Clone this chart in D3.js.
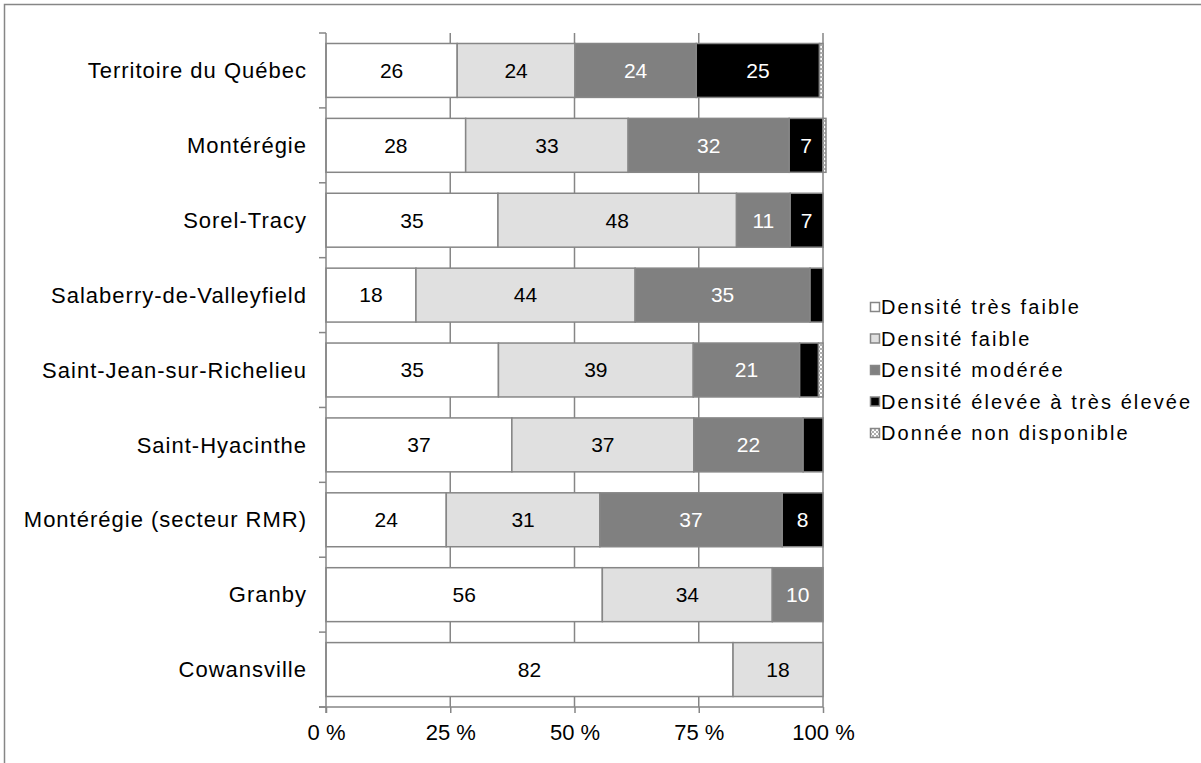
<!DOCTYPE html>
<html>
<head>
<meta charset="utf-8">
<script src="https://cdn.jsdelivr.net/npm/d3@7"></script>
<style>
  body { margin: 0; background: #fff; }
  text { font-family: "Liberation Sans", Arial, sans-serif; }
</style>
</head>
<body>
<svg id="chart" width="1201" height="763"></svg>
<script>
const categories = ['Territoire du Québec', 'Montérégie', 'Sorel-Tracy', 'Salaberry-de-Valleyfield',
  'Saint-Jean-sur-Richelieu', 'Saint-Hyacinthe', 'Montérégie (secteur RMR)', 'Granby', 'Cowansville'];
const seriesNames = ['Densité très faible', 'Densité faible', 'Densité modérée',
  'Densité élevée à très élevée', 'Donnée non disponible'];
const tresFaible = [26.4, 28.1, 34.6, 18.1, 34.7, 37.4, 24.2, 55.6, 81.9];
const faible     = [23.7, 32.7, 48.0, 44.1, 39.2, 36.6, 30.9, 34.2, 18.1];
const moderee    = [24.4, 32.4, 10.8, 35.2, 21.4, 22.0, 36.7, 10.2, 0];
const elevee     = [24.8, 6.8, 6.6, 2.6, 3.8, 4.0, 8.2, 0, 0];
const nonDispo   = [0.7, 0.6, 0, 0, 0.9, 0, 0, 0, 0];
const tickValues = [0, 25, 50, 75, 100];

const w = 1201, h = 763;
const margins = {top: 33, right: 378, bottom: 56, left: 326};
const grey = '#868686';

const chart = d3.select('#chart');

// table for d3.stack
const keys = ['tf', 'f', 'm', 'e', 'nd'];
const cols = [tresFaible, faible, moderee, elevee, nonDispo];
const rows = categories.map((c, i) => {
  const r = {cat: c};
  keys.forEach((k, j) => r[k] = cols[j][i]);
  return r;
});
const stacked = d3.stack().keys(keys)(rows);

const xScale = d3.scaleLinear()
  .domain([0, 100])
  .range([margins.left, w - margins.right]);

const yScale = d3.scaleBand()
  .domain(categories)
  .range([margins.top, h - margins.bottom])
  .paddingInner(0.28)
  .paddingOuter(0.14);

// pattern for "non disponible"
const defs = chart.append('defs');
const pat = defs.append('pattern')
  .attr('id', 'nd')
  .attr('patternUnits', 'userSpaceOnUse')
  .attr('width', 4).attr('height', 4);
pat.append('rect').attr('width', 4).attr('height', 4).attr('fill', '#fff');
pat.append('rect').attr('width', 2).attr('height', 2).attr('fill', '#b0b0b0');
pat.append('rect').attr('x', 2).attr('y', 2).attr('width', 2).attr('height', 2).attr('fill', '#b0b0b0');

const fills = ['#ffffff', '#e0e0e0', '#808080', '#000000', 'url(#nd)'];
const textColors = ['#000', '#000', '#fff', '#fff', '#000'];

// outer frame (only top and left visible)
chart.append('rect')
  .attr('x', 4.5).attr('y', 4.5)
  .attr('width', w + 20).attr('height', h + 20)
  .attr('fill', 'none')
  .attr('stroke', grey)
  .attr('stroke-width', 1.5);

// gridlines
chart.append('g')
  .selectAll('line')
  .data(tickValues.slice(1))
  .join('line')
  .attr('x1', d => xScale(d)).attr('x2', d => xScale(d))
  .attr('y1', margins.top).attr('y2', h - margins.bottom)
  .attr('stroke', grey)
  .attr('stroke-width', 1.5);

// bars
const layers = chart.append('g')
  .selectAll('g')
  .data(stacked)
  .join('g')
  .attr('fill', (d, i) => fills[i]);

layers.selectAll('rect')
  .data(d => d)
  .join('rect')
  .attr('x', d => xScale(d[0]))
  .attr('y', d => yScale(d.data.cat))
  .attr('width', d => xScale(d[1]) - xScale(d[0]))
  .attr('height', yScale.bandwidth())
  .attr('stroke', grey)
  .attr('stroke-width', 1.5)
  .style('display', d => d[1] - d[0] > 0 ? null : 'none');

// value labels
layers.each(function(layer, i) {
  d3.select(this).selectAll('text')
    .data(layer.filter(d => d[1] - d[0] >= 5))
    .join('text')
    .attr('x', d => xScale((d[0] + d[1]) / 2))
    .attr('y', d => yScale(d.data.cat) + yScale.bandwidth() / 2)
    .attr('dy', '0.35em')
    .attr('text-anchor', 'middle')
    .attr('font-size', 21)
    .attr('fill', textColors[i])
    .text(d => Math.round(d[1] - d[0]));
});

// left axis: line + ticks at band boundaries
const bounds = categories.map(c => yScale(c) - yScale.step() * yScale.paddingInner() / 2)
  .concat([h - margins.bottom]);
bounds[0] = margins.top;
const leftAxis = chart.append('g');
leftAxis.append('line')
  .attr('x1', margins.left).attr('x2', margins.left)
  .attr('y1', margins.top).attr('y2', h - margins.bottom + 6)
  .attr('stroke', grey).attr('stroke-width', 1.5);
leftAxis.selectAll('.tick')
  .data(bounds)
  .join('line')
  .attr('class', 'tick')
  .attr('x1', margins.left - 7).attr('x2', margins.left)
  .attr('y1', d => d).attr('y2', d => d)
  .attr('stroke', grey).attr('stroke-width', 1.5);
leftAxis.selectAll('text')
  .data(categories)
  .join('text')
  .attr('x', margins.left - 19)
  .attr('y', d => yScale(d) + yScale.bandwidth() / 2)
  .attr('dy', '0.35em')
  .attr('text-anchor', 'end')
  .attr('font-size', 22)
  .attr('letter-spacing', 1)
  .attr('fill', '#000')
  .text(d => d);

// bottom axis
const xAxisGroup = chart.append('g')
  .attr('transform', `translate(0, ${h - margins.bottom})`)
  .call(d3.axisBottom(xScale)
    .tickValues(tickValues)
    .tickSize(6)
    .tickSizeOuter(0)
    .tickPadding(11)
    .tickFormat(d => d + ' %'));
xAxisGroup.select('.domain').attr('stroke', grey).attr('stroke-width', 1.5)
  .attr('d', `M${margins.left - 7},0H${xScale(100)}`);
xAxisGroup.selectAll('.tick line').attr('stroke', grey).attr('stroke-width', 1.5);
xAxisGroup.selectAll('.tick text')
  .attr('font-size', 22)
  .attr('font-family', '"Liberation Sans", Arial, sans-serif')
  .attr('fill', '#000');

// legend
const legend = chart.append('g')
  .attr('transform', 'translate(870, 307)');
const items = legend.selectAll('g')
  .data(seriesNames)
  .join('g')
  .attr('transform', (d, i) => `translate(0, ${i * 31.5})`);
items.append('rect')
  .attr('x', 0.5).attr('y', -4.5)
  .attr('width', 9).attr('height', 9)
  .attr('fill', (d, i) => fills[i])
  .attr('stroke', grey)
  .attr('stroke-width', 1.5);
items.append('text')
  .attr('x', 11)
  .attr('dy', '0.35em')
  .attr('font-size', 20)
  .attr('letter-spacing', 2.1)
  .attr('fill', '#000')
  .text(d => d);
</script>
</body>
</html>
